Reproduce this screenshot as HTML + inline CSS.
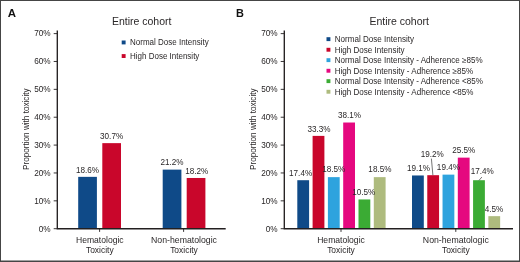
<!DOCTYPE html>
<html><head><meta charset="utf-8"><title>Entire cohort</title>
<style>html,body{margin:0;padding:0;background:#fff}body{width:520px;height:262px;overflow:hidden}</style>
</head><body>
<svg width="520" height="262" viewBox="0 0 520 262" style="display:block;will-change:transform" font-family="'Liberation Sans', sans-serif" fill="#2a2728">
<rect x="0" y="0" width="520" height="262" fill="#fff"/>
<path d="M0 0H520V262H0Z M1 1V260.5H519V1Z" fill="#454545" fill-rule="evenodd"/>
<text transform="translate(7.7,17.1) scale(1.1,1)" font-size="10.4" font-weight="bold" fill="#111">A</text>
<text transform="translate(141.70,24.60) scale(1.000,1)" font-size="10.5" text-anchor="middle">Entire cohort</text>
<rect x="78.20" y="176.86" width="18.70" height="51.54" fill="#0f4a88"/>
<rect x="102.30" y="143.14" width="18.70" height="85.26" fill="#c9062b"/>
<rect x="162.70" y="169.62" width="18.70" height="58.78" fill="#0f4a88"/>
<rect x="186.70" y="177.98" width="18.70" height="50.42" fill="#c9062b"/>
<path d="M57.30 30.4 V228.70 H225.7" fill="none" stroke="#231f20" stroke-width="1.35"/>
<path d="M53.70 228.70 H57.30" stroke="#231f20" stroke-width="0.9"/>
<text transform="translate(50.60,231.50) scale(0.915,1)" font-size="9" text-anchor="end">0%</text>
<path d="M53.70 200.83 H57.30" stroke="#231f20" stroke-width="0.9"/>
<text transform="translate(50.60,203.63) scale(0.915,1)" font-size="9" text-anchor="end">10%</text>
<path d="M53.70 172.96 H57.30" stroke="#231f20" stroke-width="0.9"/>
<text transform="translate(50.60,175.76) scale(0.915,1)" font-size="9" text-anchor="end">20%</text>
<path d="M53.70 145.09 H57.30" stroke="#231f20" stroke-width="0.9"/>
<text transform="translate(50.60,147.89) scale(0.915,1)" font-size="9" text-anchor="end">30%</text>
<path d="M53.70 117.22 H57.30" stroke="#231f20" stroke-width="0.9"/>
<text transform="translate(50.60,120.02) scale(0.915,1)" font-size="9" text-anchor="end">40%</text>
<path d="M53.70 89.35 H57.30" stroke="#231f20" stroke-width="0.9"/>
<text transform="translate(50.60,92.15) scale(0.915,1)" font-size="9" text-anchor="end">50%</text>
<path d="M53.70 61.48 H57.30" stroke="#231f20" stroke-width="0.9"/>
<text transform="translate(50.60,64.28) scale(0.915,1)" font-size="9" text-anchor="end">60%</text>
<path d="M53.70 33.61 H57.30" stroke="#231f20" stroke-width="0.9"/>
<text transform="translate(50.60,36.41) scale(0.915,1)" font-size="9" text-anchor="end">70%</text>
<path d="M99.6 228.7 V231.9" stroke="#231f20" stroke-width="0.9"/>
<path d="M183.6 228.7 V231.9" stroke="#231f20" stroke-width="0.9"/>
<text transform="translate(29.0,129.2) rotate(-90) scale(0.868,1)" font-size="9.4" text-anchor="middle">Proportion with toxicity</text>
<text transform="translate(87.50,172.70) scale(0.905,1)" font-size="9" text-anchor="middle">18.6%</text>
<text transform="translate(111.60,138.80) scale(0.905,1)" font-size="9" text-anchor="middle">30.7%</text>
<text transform="translate(172.00,165.40) scale(0.905,1)" font-size="9" text-anchor="middle">21.2%</text>
<text transform="translate(196.80,173.90) scale(0.905,1)" font-size="9" text-anchor="middle">18.2%</text>
<text transform="translate(99.80,242.80) scale(0.955,1)" font-size="9" text-anchor="middle">Hematologic</text>
<text transform="translate(99.80,253.20) scale(0.940,1)" font-size="9" text-anchor="middle">Toxicity</text>
<text transform="translate(184.00,242.80) scale(0.970,1)" font-size="9" text-anchor="middle">Non-hematologic</text>
<text transform="translate(184.00,253.20) scale(0.940,1)" font-size="9" text-anchor="middle">Toxicity</text>
<rect x="121.7" y="40.5" width="3.9" height="3.9" fill="#0f4a88"/>
<text transform="translate(130.00,44.90) scale(0.942,1)" font-size="8.5" text-anchor="start">Normal Dose Intensity</text>
<rect x="121.7" y="54.1" width="3.9" height="3.9" fill="#c9062b"/>
<text transform="translate(130.00,58.50) scale(0.942,1)" font-size="8.5" text-anchor="start">High Dose Intensity</text>
<text transform="translate(236,17.1) scale(1.05,1)" font-size="10.4" font-weight="bold" fill="#111">B</text>
<text transform="translate(399.20,24.60) scale(1.000,1)" font-size="10.5" text-anchor="middle">Entire cohort</text>
<rect x="297.30" y="180.21" width="11.80" height="48.19" fill="#0f4a88"/>
<rect x="412.00" y="175.47" width="11.80" height="52.93" fill="#0f4a88"/>
<rect x="312.60" y="135.89" width="11.80" height="92.51" fill="#c9062b"/>
<rect x="427.27" y="175.19" width="11.80" height="53.21" fill="#c9062b"/>
<rect x="327.90" y="177.14" width="11.80" height="51.26" fill="#2ea3de"/>
<rect x="442.54" y="174.63" width="11.80" height="53.77" fill="#2ea3de"/>
<rect x="343.20" y="122.52" width="11.80" height="105.88" fill="#e5087f"/>
<rect x="457.81" y="157.63" width="11.80" height="70.77" fill="#e5087f"/>
<rect x="358.50" y="199.44" width="11.80" height="28.96" fill="#3bab34"/>
<rect x="473.08" y="180.21" width="11.80" height="48.19" fill="#3bab34"/>
<rect x="373.80" y="177.14" width="11.80" height="51.26" fill="#aebb7e"/>
<rect x="488.35" y="216.16" width="11.80" height="12.24" fill="#aebb7e"/>
<path d="M284.30 30.4 V228.70 H513.0" fill="none" stroke="#231f20" stroke-width="1.35"/>
<path d="M280.70 228.70 H284.30" stroke="#231f20" stroke-width="0.9"/>
<text transform="translate(277.60,231.50) scale(0.915,1)" font-size="9" text-anchor="end">0%</text>
<path d="M280.70 200.83 H284.30" stroke="#231f20" stroke-width="0.9"/>
<text transform="translate(277.60,203.63) scale(0.915,1)" font-size="9" text-anchor="end">10%</text>
<path d="M280.70 172.96 H284.30" stroke="#231f20" stroke-width="0.9"/>
<text transform="translate(277.60,175.76) scale(0.915,1)" font-size="9" text-anchor="end">20%</text>
<path d="M280.70 145.09 H284.30" stroke="#231f20" stroke-width="0.9"/>
<text transform="translate(277.60,147.89) scale(0.915,1)" font-size="9" text-anchor="end">30%</text>
<path d="M280.70 117.22 H284.30" stroke="#231f20" stroke-width="0.9"/>
<text transform="translate(277.60,120.02) scale(0.915,1)" font-size="9" text-anchor="end">40%</text>
<path d="M280.70 89.35 H284.30" stroke="#231f20" stroke-width="0.9"/>
<text transform="translate(277.60,92.15) scale(0.915,1)" font-size="9" text-anchor="end">50%</text>
<path d="M280.70 61.48 H284.30" stroke="#231f20" stroke-width="0.9"/>
<text transform="translate(277.60,64.28) scale(0.915,1)" font-size="9" text-anchor="end">60%</text>
<path d="M280.70 33.61 H284.30" stroke="#231f20" stroke-width="0.9"/>
<text transform="translate(277.60,36.41) scale(0.915,1)" font-size="9" text-anchor="end">70%</text>
<path d="M341.0 228.7 V231.9" stroke="#231f20" stroke-width="0.9"/>
<path d="M455.8 228.7 V231.9" stroke="#231f20" stroke-width="0.9"/>
<text transform="translate(256.0,129.2) rotate(-90) scale(0.868,1)" font-size="9.4" text-anchor="middle">Proportion with toxicity</text>
<text transform="translate(300.60,176.10) scale(0.905,1)" font-size="9" text-anchor="middle">17.4%</text>
<text transform="translate(319.00,131.50) scale(0.905,1)" font-size="9" text-anchor="middle">33.3%</text>
<text transform="translate(333.80,172.20) scale(0.905,1)" font-size="9" text-anchor="middle">18.5%</text>
<text transform="translate(349.50,117.60) scale(0.905,1)" font-size="9" text-anchor="middle">38.1%</text>
<text transform="translate(363.70,194.70) scale(0.905,1)" font-size="9" text-anchor="middle">10.5%</text>
<text transform="translate(379.90,172.10) scale(0.905,1)" font-size="9" text-anchor="middle">18.5%</text>
<text transform="translate(418.50,170.60) scale(0.905,1)" font-size="9" text-anchor="middle">19.1%</text>
<text transform="translate(432.20,156.50) scale(0.905,1)" font-size="9" text-anchor="middle">19.2%</text>
<text transform="translate(448.40,169.80) scale(0.905,1)" font-size="9" text-anchor="middle">19.4%</text>
<text transform="translate(463.70,152.50) scale(0.905,1)" font-size="9" text-anchor="middle">25.5%</text>
<text transform="translate(482.30,174.40) scale(0.905,1)" font-size="9" text-anchor="middle">17.4%</text>
<text transform="translate(494.00,211.50) scale(0.905,1)" font-size="9" text-anchor="middle">4.5%</text>
<path d="M431.4 158.6 L432.9 175.2" stroke="#3a3a3a" stroke-width="0.7" fill="none"/>
<path d="M481.9 177 L479 180.4" stroke="#3a3a3a" stroke-width="0.7" fill="none"/>
<text transform="translate(341.00,242.80) scale(0.955,1)" font-size="9" text-anchor="middle">Hematologic</text>
<text transform="translate(341.00,253.20) scale(0.940,1)" font-size="9" text-anchor="middle">Toxicity</text>
<text transform="translate(455.80,242.80) scale(0.970,1)" font-size="9" text-anchor="middle">Non-hematologic</text>
<text transform="translate(455.80,253.20) scale(0.940,1)" font-size="9" text-anchor="middle">Toxicity</text>
<rect x="326.5" y="37.2" width="3.9" height="3.9" fill="#0f4a88"/>
<text transform="translate(334.70,42.10) scale(0.985,1)" font-size="8.2" text-anchor="start">Normal Dose Intensity</text>
<rect x="326.5" y="47.8" width="3.9" height="3.9" fill="#c9062b"/>
<text transform="translate(334.70,52.60) scale(0.985,1)" font-size="8.2" text-anchor="start">High Dose Intensity</text>
<rect x="326.5" y="58.2" width="3.9" height="3.9" fill="#2ea3de"/>
<text transform="translate(334.70,63.10) scale(0.985,1)" font-size="8.2" text-anchor="start">Normal Dose Intensity - Adherence ≥85%</text>
<rect x="326.5" y="68.8" width="3.9" height="3.9" fill="#e5087f"/>
<text transform="translate(334.70,73.60) scale(0.985,1)" font-size="8.2" text-anchor="start">High Dose Intensity - Adherence ≥85%</text>
<rect x="326.5" y="79.2" width="3.9" height="3.9" fill="#3bab34"/>
<text transform="translate(334.70,84.10) scale(0.985,1)" font-size="8.2" text-anchor="start">Normal Dose Intensity - Adherence &lt;85%</text>
<rect x="326.5" y="89.8" width="3.9" height="3.9" fill="#aebb7e"/>
<text transform="translate(334.70,94.60) scale(0.985,1)" font-size="8.2" text-anchor="start">High Dose Intensity - Adherence &lt;85%</text>
</svg>
</body></html>
